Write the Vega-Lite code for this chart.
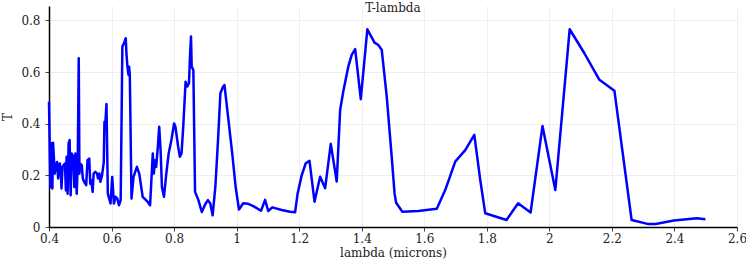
{
  "$schema": "https://vega.github.io/schema/vega-lite/v6.json",
  "width": 688,
  "height": 221,
  "autosize": "none",
  "padding": {"left": 49, "top": 6, "right": 9, "bottom": 42},
  "background": "white",
  "title": {"text": "T-lambda", "font": "DejaVu Serif", "fontSize": 12, "fontWeight": "normal", "color": "#222", "offset": -9, "anchor": "middle"},
  "config": {
    "font": "DejaVu Serif",
    "view": {"stroke": null},
    "axis": {
      "labelFont": "DejaVu Serif", "titleFont": "DejaVu Serif",
      "labelFontSize": 12, "labelColor": "#222",
      "titleFontSize": 12, "titleFontWeight": "normal", "titleColor": "#222",
      "domainColor": "#000", "domainWidth": 1.5, "tickColor": "#444", "tickSize": 4,
      "gridColor": "#eeeeee", "gridWidth": 1, "labelFlush": false
    }
  },
  "data": {"values": [
    {"lambda": 0.400, "T": 0.485}, {"lambda": 0.4043, "T": 0.155}, {"lambda": 0.4076, "T": 0.324}, {"lambda": 0.4108, "T": 0.149},
    {"lambda": 0.4130, "T": 0.326}, {"lambda": 0.4184, "T": 0.207}, {"lambda": 0.4216, "T": 0.233}, {"lambda": 0.4259, "T": 0.252},
    {"lambda": 0.4292, "T": 0.188}, {"lambda": 0.4346, "T": 0.246}, {"lambda": 0.4378, "T": 0.207}, {"lambda": 0.4400, "T": 0.149},
    {"lambda": 0.4432, "T": 0.233}, {"lambda": 0.4508, "T": 0.246}, {"lambda": 0.4541, "T": 0.142}, {"lambda": 0.4562, "T": 0.272},
    {"lambda": 0.4595, "T": 0.129}, {"lambda": 0.4627, "T": 0.324}, {"lambda": 0.4659, "T": 0.337}, {"lambda": 0.4692, "T": 0.123},
    {"lambda": 0.4724, "T": 0.285}, {"lambda": 0.4778, "T": 0.272}, {"lambda": 0.4811, "T": 0.155}, {"lambda": 0.4843, "T": 0.285},
    {"lambda": 0.4886, "T": 0.129}, {"lambda": 0.4919, "T": 0.246}, {"lambda": 0.4951, "T": 0.654}, {"lambda": 0.4973, "T": 0.207},
    {"lambda": 0.4995, "T": 0.246}, {"lambda": 0.5049, "T": 0.239}, {"lambda": 0.5081, "T": 0.188}, {"lambda": 0.5124, "T": 0.175},
    {"lambda": 0.5189, "T": 0.162}, {"lambda": 0.5232, "T": 0.259}, {"lambda": 0.5286, "T": 0.265}, {"lambda": 0.5319, "T": 0.168},
    {"lambda": 0.5351, "T": 0.181}, {"lambda": 0.5395, "T": 0.136}, {"lambda": 0.5427, "T": 0.207}, {"lambda": 0.5481, "T": 0.214},
    {"lambda": 0.5535, "T": 0.207}, {"lambda": 0.5568, "T": 0.188}, {"lambda": 0.5611, "T": 0.207}, {"lambda": 0.5643, "T": 0.175},
    {"lambda": 0.5697, "T": 0.201}, {"lambda": 0.5751, "T": 0.25}, {"lambda": 0.5773, "T": 0.408}, {"lambda": 0.5800, "T": 0.40},
    {"lambda": 0.5838, "T": 0.476}, {"lambda": 0.5881, "T": 0.129}, {"lambda": 0.5968, "T": 0.091}, {"lambda": 0.6022, "T": 0.194},
    {"lambda": 0.6076, "T": 0.091}, {"lambda": 0.6130, "T": 0.117}, {"lambda": 0.6184, "T": 0.110}, {"lambda": 0.6238, "T": 0.084},
    {"lambda": 0.6292, "T": 0.104}, {"lambda": 0.6346, "T": 0.699}, {"lambda": 0.6400, "T": 0.712}, {"lambda": 0.6454, "T": 0.731},
    {"lambda": 0.6476, "T": 0.673}, {"lambda": 0.6508, "T": 0.621}, {"lambda": 0.6541, "T": 0.589}, {"lambda": 0.6562, "T": 0.621},
    {"lambda": 0.6584, "T": 0.589}, {"lambda": 0.6638, "T": 0.110}, {"lambda": 0.6703, "T": 0.194}, {"lambda": 0.6811, "T": 0.233},
    {"lambda": 0.6886, "T": 0.207}, {"lambda": 0.6995, "T": 0.117}, {"lambda": 0.7103, "T": 0.104}, {"lambda": 0.7157, "T": 0.097},
    {"lambda": 0.7232, "T": 0.084}, {"lambda": 0.7319, "T": 0.285}, {"lambda": 0.7351, "T": 0.207}, {"lambda": 0.7395, "T": 0.259},
    {"lambda": 0.7427, "T": 0.233}, {"lambda": 0.7481, "T": 0.311}, {"lambda": 0.7524, "T": 0.388}, {"lambda": 0.7568, "T": 0.298},
    {"lambda": 0.7611, "T": 0.155}, {"lambda": 0.7676, "T": 0.117}, {"lambda": 0.7751, "T": 0.207}, {"lambda": 0.7827, "T": 0.285},
    {"lambda": 0.7914, "T": 0.337}, {"lambda": 0.8000, "T": 0.401}, {"lambda": 0.8043, "T": 0.388}, {"lambda": 0.8130, "T": 0.311},
    {"lambda": 0.8184, "T": 0.272}, {"lambda": 0.8238, "T": 0.285}, {"lambda": 0.8292, "T": 0.388}, {"lambda": 0.8368, "T": 0.563},
    {"lambda": 0.8422, "T": 0.544}, {"lambda": 0.8476, "T": 0.557}, {"lambda": 0.8508, "T": 0.660}, {"lambda": 0.8541, "T": 0.738},
    {"lambda": 0.8562, "T": 0.621}, {"lambda": 0.8616, "T": 0.608}, {"lambda": 0.8670, "T": 0.136}, {"lambda": 0.8778, "T": 0.104},
    {"lambda": 0.8886, "T": 0.058}, {"lambda": 0.8995, "T": 0.088}, {"lambda": 0.9081, "T": 0.104}, {"lambda": 0.9157, "T": 0.091},
    {"lambda": 0.9232, "T": 0.045}, {"lambda": 0.9319, "T": 0.155}, {"lambda": 0.9405, "T": 0.337}, {"lambda": 0.9481, "T": 0.518},
    {"lambda": 0.9557, "T": 0.541}, {"lambda": 0.9611, "T": 0.550}, {"lambda": 0.9665, "T": 0.492}, {"lambda": 0.9859, "T": 0.285},
    {"lambda": 0.9968, "T": 0.155}, {"lambda": 1.0075, "T": 0.068}, {"lambda": 1.021, "T": 0.092}, {"lambda": 1.037, "T": 0.090},
    {"lambda": 1.053, "T": 0.081}, {"lambda": 1.078, "T": 0.063}, {"lambda": 1.091, "T": 0.105}, {"lambda": 1.101, "T": 0.062},
    {"lambda": 1.114, "T": 0.076}, {"lambda": 1.144, "T": 0.066}, {"lambda": 1.171, "T": 0.059}, {"lambda": 1.187, "T": 0.057},
    {"lambda": 1.195, "T": 0.13}, {"lambda": 1.208, "T": 0.20}, {"lambda": 1.221, "T": 0.247}, {"lambda": 1.233, "T": 0.256},
    {"lambda": 1.249, "T": 0.098}, {"lambda": 1.267, "T": 0.195}, {"lambda": 1.283, "T": 0.15}, {"lambda": 1.301, "T": 0.322},
    {"lambda": 1.320, "T": 0.176}, {"lambda": 1.331, "T": 0.453}, {"lambda": 1.341, "T": 0.525}, {"lambda": 1.357, "T": 0.621},
    {"lambda": 1.368, "T": 0.667}, {"lambda": 1.379, "T": 0.689}, {"lambda": 1.397, "T": 0.495}, {"lambda": 1.418, "T": 0.766},
    {"lambda": 1.427, "T": 0.745}, {"lambda": 1.441, "T": 0.714}, {"lambda": 1.453, "T": 0.705}, {"lambda": 1.464, "T": 0.686},
    {"lambda": 1.480, "T": 0.505}, {"lambda": 1.496, "T": 0.27}, {"lambda": 1.505, "T": 0.13}, {"lambda": 1.510, "T": 0.094},
    {"lambda": 1.530, "T": 0.059}, {"lambda": 1.581, "T": 0.062}, {"lambda": 1.640, "T": 0.071}, {"lambda": 1.667, "T": 0.143},
    {"lambda": 1.699, "T": 0.253}, {"lambda": 1.731, "T": 0.298}, {"lambda": 1.760, "T": 0.357}, {"lambda": 1.779, "T": 0.182},
    {"lambda": 1.795, "T": 0.053}, {"lambda": 1.863, "T": 0.027}, {"lambda": 1.900, "T": 0.092}, {"lambda": 1.940, "T": 0.056},
    {"lambda": 1.978, "T": 0.391}, {"lambda": 2.019, "T": 0.143}, {"lambda": 2.065, "T": 0.766}, {"lambda": 2.112, "T": 0.673},
    {"lambda": 2.160, "T": 0.570}, {"lambda": 2.208, "T": 0.528}, {"lambda": 2.263, "T": 0.027}, {"lambda": 2.314, "T": 0.012},
    {"lambda": 2.340, "T": 0.012}, {"lambda": 2.398, "T": 0.025}, {"lambda": 2.472, "T": 0.034}, {"lambda": 2.499, "T": 0.030}
  ]},
  "mark": {"type": "line", "color": "#0000ff", "strokeWidth": 2.5, "strokeJoin": "round"},
  "encoding": {
    "x": {"field": "lambda", "type": "quantitative", "scale": {"domain": [0.4, 2.6], "nice": false, "zero": false},
      "axis": {"title": "lambda (microns)", "values": [0.4, 0.6, 0.8, 1, 1.2, 1.4, 1.6, 1.8, 2, 2.2, 2.4, 2.6], "format": "~g", "labelPadding": 2, "titlePadding": 3}},
    "y": {"field": "T", "type": "quantitative", "scale": {"domain": [0, 0.856], "nice": false},
      "axis": {"title": "T", "values": [0, 0.2, 0.4, 0.6, 0.8], "format": "~g", "labelPadding": 5, "titlePadding": 6}}
  }
}
